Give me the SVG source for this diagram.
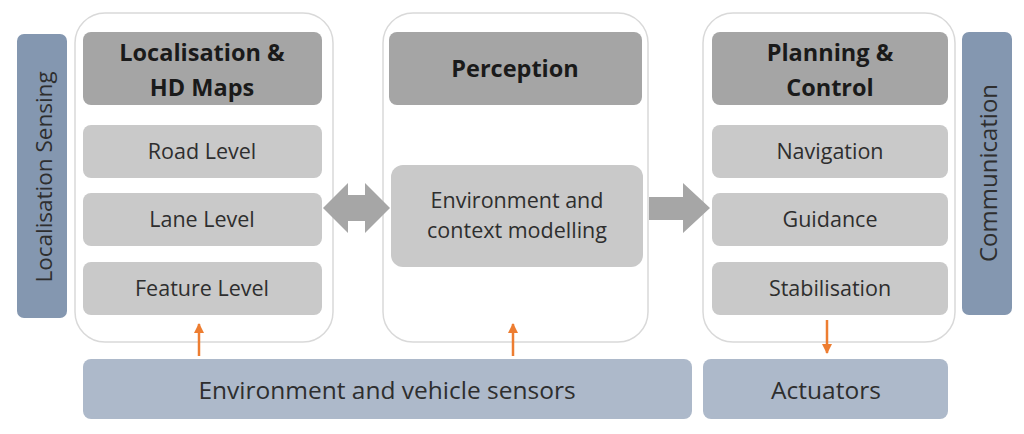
<svg xmlns="http://www.w3.org/2000/svg" width="1024" height="434" viewBox="0 0 1024 434">
<style>
.bg{fill:#ffffff}
.cont{fill:#ffffff;stroke:#d9d9d9;stroke-width:1.5}
.hdr{fill:#a5a5a5}
.sub{fill:#c9c9c9}
.side{fill:#8497b0}
.bot{fill:#adb9ca}
.t{font-family:"Open Sans","Liberation Sans",sans-serif;fill:#2e2e2e;text-anchor:middle}
.tb{font-family:"Open Sans","Liberation Sans",sans-serif;font-weight:bold;fill:#1a1a1a;text-anchor:middle;font-size:23.5px}
.ts{font-size:21.5px}
.tl{font-size:24.5px}
.tv{font-size:22.5px}
.garrow{fill:#a6a6a6}
.oarrow{stroke:#ed7d31;stroke-width:2.5;fill:none}
</style>
<defs>
<marker id="oh" viewBox="0 0 10 10" refX="9" refY="5" markerWidth="4" markerHeight="4" orient="auto">
<path d="M0,0 L10,5 L0,10 z" fill="#ed7d31"/>
</marker>
</defs>
<rect class="bg" width="1024" height="434"/>

<g id="localisation-sensing">
<rect class="side" x="17" y="34" width="50" height="284" rx="7"/>
<text class="t tv" transform="translate(52,177) rotate(-90)">Localisation Sensing</text>
</g>

<g id="localisation">
<rect class="cont" x="75" y="13" width="258" height="329" rx="30"/>
<rect class="hdr" x="83" y="32" width="239" height="73" rx="8"/>
<text class="tb" x="202" y="61">Localisation &amp;</text>
<text class="tb" x="202" y="96">HD Maps</text>
<rect class="sub" x="83" y="125" width="239" height="53" rx="8"/>
<text class="t ts" x="202" y="159">Road Level</text>
<rect class="sub" x="83" y="193" width="239" height="53" rx="8"/>
<text class="t ts" x="202" y="227">Lane Level</text>
<rect class="sub" x="83" y="262" width="239" height="53" rx="8"/>
<text class="t ts" x="202" y="296">Feature Level</text>
</g>

<g id="perception">
<rect class="cont" x="383" y="13" width="265" height="329" rx="30"/>
<rect class="hdr" x="389" y="32" width="253" height="73" rx="8"/>
<text class="tb" x="515" y="77">Perception</text>
<rect class="sub" x="391" y="165" width="252" height="102" rx="12"/>
<text class="t ts" x="517" y="208">Environment and</text>
<text class="t ts" x="517" y="238">context modelling</text>
</g>

<g id="planning">
<rect class="cont" x="703" y="13" width="252" height="329" rx="30"/>
<rect class="hdr" x="712" y="32" width="236" height="73" rx="8"/>
<text class="tb" x="830" y="61">Planning &amp;</text>
<text class="tb" x="830" y="96">Control</text>
<rect class="sub" x="712" y="125" width="236" height="53" rx="8"/>
<text class="t ts" x="830" y="159">Navigation</text>
<rect class="sub" x="712" y="193" width="236" height="53" rx="8"/>
<text class="t ts" x="830" y="227">Guidance</text>
<rect class="sub" x="712" y="262" width="236" height="53" rx="8"/>
<text class="t ts" x="830" y="296">Stabilisation</text>
</g>

<g id="communication">
<rect class="side" x="962" y="32" width="50" height="283" rx="7"/>
<text class="t tl" transform="translate(997,173) rotate(-90)" style="font-size:24px">Communication</text>
</g>

<g id="sensors">
<rect class="bot" x="83" y="359" width="609" height="60" rx="8"/>
<text class="t tl" x="387" y="399">Environment and vehicle sensors</text>
</g>

<g id="actuators">
<rect class="bot" x="703" y="359" width="245" height="60" rx="8"/>
<text class="t tl" x="826" y="399">Actuators</text>
</g>

<g id="connectors">
<path class="garrow" d="M323,208 L348,183 L348,195 L365,195 L365,183 L390,208 L365,233 L365,221 L348,221 L348,233 Z"/>
<path class="garrow" d="M649,197 L683,197 L683,183 L710,208 L683,233 L683,220 L649,220 Z"/>
<line class="oarrow" x1="199" y1="356" x2="199" y2="324" marker-end="url(#oh)"/>
<line class="oarrow" x1="513" y1="356" x2="513" y2="324" marker-end="url(#oh)"/>
<line class="oarrow" x1="827" y1="320" x2="827" y2="353" marker-end="url(#oh)"/>
</g>
</svg>
